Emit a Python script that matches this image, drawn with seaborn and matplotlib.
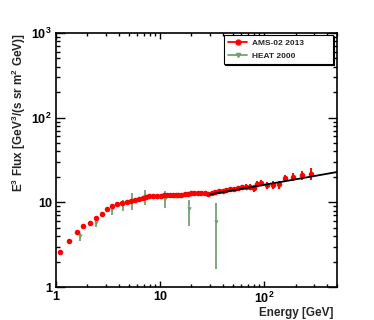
import numpy as np
import pandas as pd
import matplotlib
matplotlib.use("Agg")
import matplotlib.pyplot as plt
from matplotlib.lines import Line2D
from matplotlib.ticker import FixedLocator, NullFormatter, LogLocator
import seaborn as sns

# ---- data ----
ams_energy = [1.09, 1.33, 1.58, 1.82, 2.12, 2.43, 2.75, 3.12, 3.47, 3.89,
              4.31, 4.78, 5.26, 5.75, 6.28, 6.8, 7.33, 7.9, 8.6, 9.4,
              10.3, 11.0, 11.7, 12.45, 13.25, 14.1, 15.0, 16.05, 17.2, 18.45,
              19.8, 21.3, 22.9, 24.7, 26.7, 28.9, 31.3, 33.9, 36.8, 40.0,
              43.4, 47.3, 51.5, 56.1, 61.3, 67.0, 73.0, 79.0, 86.0, 93.0,
              106, 122, 140, 160, 187, 229, 283]
ams_flux = [2.61, 3.49, 4.42, 5.29, 5.74, 6.47, 7.33, 8.34, 9.04, 9.55,
            9.8, 10.1, 10.4, 10.7, 11.0, 11.4, 11.6, 11.9, 12.0, 12.0,
            12.0, 12.1, 12.1, 12.1, 12.2, 12.2, 12.3, 12.3, 12.4, 12.7,
            13.0, 12.8, 12.8, 12.9, 12.8, 12.7, 13.0, 13.4, 13.6, 13.5,
            13.8, 14.3, 14.2, 14.7, 15.0, 15.3, 15.1, 14.6, 16.6, 17.1,
            16.0, 16.0, 16.3, 19.2, 20.0, 21.0, 21.9]
ams_err = [0.05, 0.06, 0.07, 0.08, 0.08, 0.09, 0.1, 0.1, 0.11, 0.11,
           0.12, 0.12, 0.12, 0.13, 0.13, 0.14, 0.14, 0.15, 0.15, 0.16,
           0.17, 0.18, 0.19, 0.2, 0.2, 0.21, 0.22, 0.23, 0.25, 0.27,
           0.3, 0.32, 0.34, 0.37, 0.4, 0.42, 0.46, 0.5, 0.55, 0.6,
           0.65, 0.72, 0.8, 0.9, 1.0, 1.1, 1.2, 1.3, 1.4, 1.5,
           1.6, 1.7, 1.8, 2.0, 2.2, 2.6, 3.6]

heat_energy = [1.70, 2.41, 3.43, 4.44, 5.42, 7.17, 11.1, 19.0, 34.5]
heat_flux = [4.0, 5.74, 8.27, 9.3, 10.4, 11.5, 10.9, 8.27, 5.85]
heat_upper = [4.4, 6.5, 9.4, 10.8, 12.8, 13.9, 13.7, 10.8, 9.9]
heat_lower = [3.5, 5.15, 7.0, 7.8, 8.1, 9.3, 8.5, 5.3, 1.62]

fit_energy = [30, 500]
fit_flux = [12.4, 22.8]

x_ticks = [1, 10, 100]
x_ticklabels = ["1", "10", "$10^2$"]
y_ticks = [1, 10, 100, 1000]
y_ticklabels = ["1", "10", "$10^2$", "$10^3$"]

ams_label = "AMS-02 2013"
heat_label = "HEAT 2000"

# ---- style ----
sns.set_theme(style="ticks")
plt.rcParams["font.family"] = ["Liberation Sans", "DejaVu Sans"]
plt.rcParams["font.weight"] = "bold"
plt.rcParams["mathtext.fontset"] = "custom"
plt.rcParams["mathtext.rm"] = "Liberation Sans:bold"
plt.rcParams["mathtext.bf"] = "Liberation Sans:bold"
plt.rcParams["mathtext.it"] = "Liberation Sans:bold"
plt.rcParams["mathtext.default"] = "rm"

RED = "#ff0000"
GREEN = "#72a272"

fig = plt.figure(figsize=(3.74, 3.2), dpi=100)
ax = fig.add_axes([0.1497, 0.103, 0.7513, 0.794])
ax.set_xscale("log")
ax.set_yscale("log")

ams = pd.DataFrame({"energy": ams_energy, "flux": ams_flux, "err": ams_err})
heat = pd.DataFrame({"energy": heat_energy, "flux": heat_flux,
                     "up": heat_upper, "lo": heat_lower})

# HEAT error bars and markers
ax.errorbar(heat["energy"], heat["flux"],
            yerr=[heat["flux"] - heat["lo"], heat["up"] - heat["flux"]],
            fmt="none", ecolor=GREEN, elinewidth=1.3, capsize=0, zorder=2)
sns.scatterplot(data=heat, x="energy", y="flux", ax=ax, marker="v",
                color=GREEN, s=10, edgecolor=GREEN, linewidth=0, zorder=3,
                legend=False)

# AMS error bars and markers
ax.errorbar(ams["energy"], ams["flux"], yerr=ams["err"], fmt="none",
            ecolor=RED, elinewidth=1.4, capsize=0, zorder=4)
sns.scatterplot(data=ams, x="energy", y="flux", ax=ax, marker="o",
                color=RED, s=16, edgecolor=RED, linewidth=0, zorder=5,
                legend=False)

# fit line
sns.lineplot(x=fit_energy, y=fit_flux, ax=ax, color="black", linewidth=1.3,
             zorder=6)

ax.set_xlim(1, 500)
ax.set_ylim(1, 1000)

ax.xaxis.set_major_locator(FixedLocator(x_ticks))
ax.set_xticklabels(x_ticklabels)
ax.yaxis.set_major_locator(FixedLocator(y_ticks))
ax.set_yticklabels(y_ticklabels)
ax.xaxis.set_minor_locator(LogLocator(base=10, subs=np.arange(2, 10), numticks=20))
ax.yaxis.set_minor_locator(LogLocator(base=10, subs=np.arange(2, 10), numticks=20))
ax.xaxis.set_minor_formatter(NullFormatter())
ax.yaxis.set_minor_formatter(NullFormatter())

ax.tick_params(axis="both", which="both", direction="in", top=True,
               right=True, colors="black", labelsize=9)
ax.tick_params(axis="x", which="major", length=4.5, width=1.0, pad=3)
ax.tick_params(axis="x", which="minor", length=2.3, width=1.0)
ax.tick_params(axis="y", which="major", length=6.5, width=1.0, pad=3)
ax.tick_params(axis="y", which="minor", length=3.2, width=1.0)
for lab in ax.get_xticklabels() + ax.get_yticklabels():
    lab.set_fontweight("bold")

for sp in ax.spines.values():
    sp.set_color("black")
    sp.set_linewidth(1.2)

ax.set_xlabel("Energy [GeV]", fontsize=8.5, fontweight="bold", loc="right")
ax.set_ylabel("E$^3$ Flux [GeV$^3$/(s sr m$^2$ GeV)]", fontsize=8.5,
              fontweight="bold", loc="top")
ax.xaxis.set_label_coords(0.986, -0.077)
ax.yaxis.set_label_coords(-0.1, 1.0)

handles = [
    Line2D([0], [0], color=RED, marker="o", markersize=3.5, linewidth=1.3),
    Line2D([0], [0], color=GREEN, marker="v", markersize=3, linewidth=1.3),
]
leg = ax.legend(handles, [ams_label, heat_label], loc="upper left",
                bbox_to_anchor=(0.598, 0.878, 0.388, 0.114), mode="expand",
                frameon=True, fancybox=False, edgecolor="black",
                handlelength=2.3, borderpad=0.5, labelspacing=0.6,
                handletextpad=0.5, borderaxespad=0.0,
                shadow={"color": "black", "alpha": 1, "ox": 0.6, "oy": -0.6},
                prop={"weight": "bold", "size": 6})
leg.get_frame().set_linewidth(0.8)
leg.get_frame().set_alpha(1)
ax.set_facecolor("white")
fig.patch.set_facecolor("white")

fig.savefig("out.png", dpi=100)
